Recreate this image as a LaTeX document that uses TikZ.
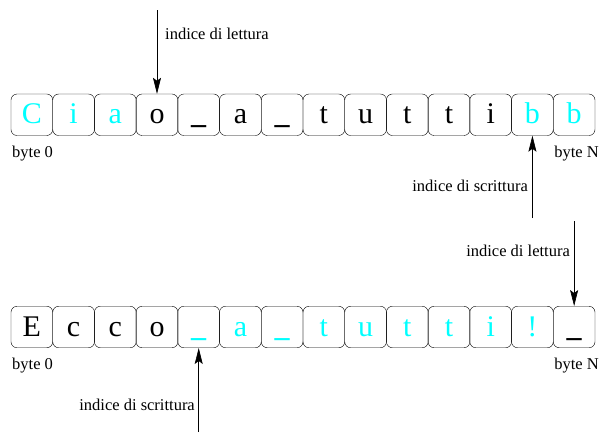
\documentclass[tikz,border=0pt]{standalone}
\usepackage{fontspec}
\setmainfont{Liberation Serif}
\usetikzlibrary{arrows.meta}
\definecolor{pcyan}{RGB}{0,255,255}
\newcommand{\usc}{\textbf{\_}}
\begin{document}
\begin{tikzpicture}[x=1pt,y=-1pt,
  cell/.style={draw,rounded corners=6pt,minimum width=41.714pt,minimum height=41.5pt,inner sep=0pt,
    font=\fontsize{30}{32}\selectfont,text height=20pt,text depth=2pt},
  hi/.style={text=pcyan},
  lbl/.style={font=\fontsize{16.5}{18}\selectfont,inner sep=0pt},
  ptr/.style={-{Stealth[length=16pt,width=8pt,inset=3pt]},line width=0.6pt}]
\useasboundingbox (0,0) rectangle (600,432);
% row 1
\foreach \i/\t/\s in {1/C/hi,2/i/hi,3/a/hi,4/o/,5/\usc/,6/a/,7/\usc/,8/t/,9/u/,10/t/,11/t/,12/i/,13/b/hi,14/b/hi}{
  \node[cell,\s] (a\i) at ({11+(\i-0.5)*41.714},114.75) {\t};
}
% row 2
\foreach \i/\t/\s in {1/E/,2/c/,3/c/,4/o/,5/\usc/hi,6/a/hi,7/\usc/hi,8/t/hi,9/u/hi,10/t/hi,11/t/hi,12/i/hi,13/!/hi,14/\usc/}{
  \node[cell,\s] (b\i) at ({11+(\i-0.5)*41.714},327) {\t};
}
\node[lbl,anchor=base west] (a0) at (12,157) {byte 0};
\node[lbl,anchor=base east] (aN) at (599,157) {byte N};
\node[lbl,anchor=base west] (b0) at (12,369.5) {byte 0};
\node[lbl,anchor=base east] (bN) at (599,369.5) {byte N};
% pointers
\coordinate (p1) at (a4.north |- 0,10);
\draw[ptr] (p1) -- (a4.north);
\node[lbl,anchor=base west] (l1) at (165,39) {indice di lettura};
\coordinate (p2) at (a13.south |- 0,218);
\draw[ptr] (p2) -- (a13.south);
\node[lbl,anchor=base east] (l2) at (528,191) {indice di scrittura};
\coordinate (p3) at (b14.north |- 0,221);
\draw[ptr] (p3) -- (b14.north);
\node[lbl,anchor=base east] (l3) at (570,256) {indice di lettura};
\coordinate (p4) at (b5.south |- 0,432);
\draw[ptr] (p4) -- (b5.south);
\node[lbl,anchor=base east] (l4) at (195,410) {indice di scrittura};
\end{tikzpicture}
\end{document}
